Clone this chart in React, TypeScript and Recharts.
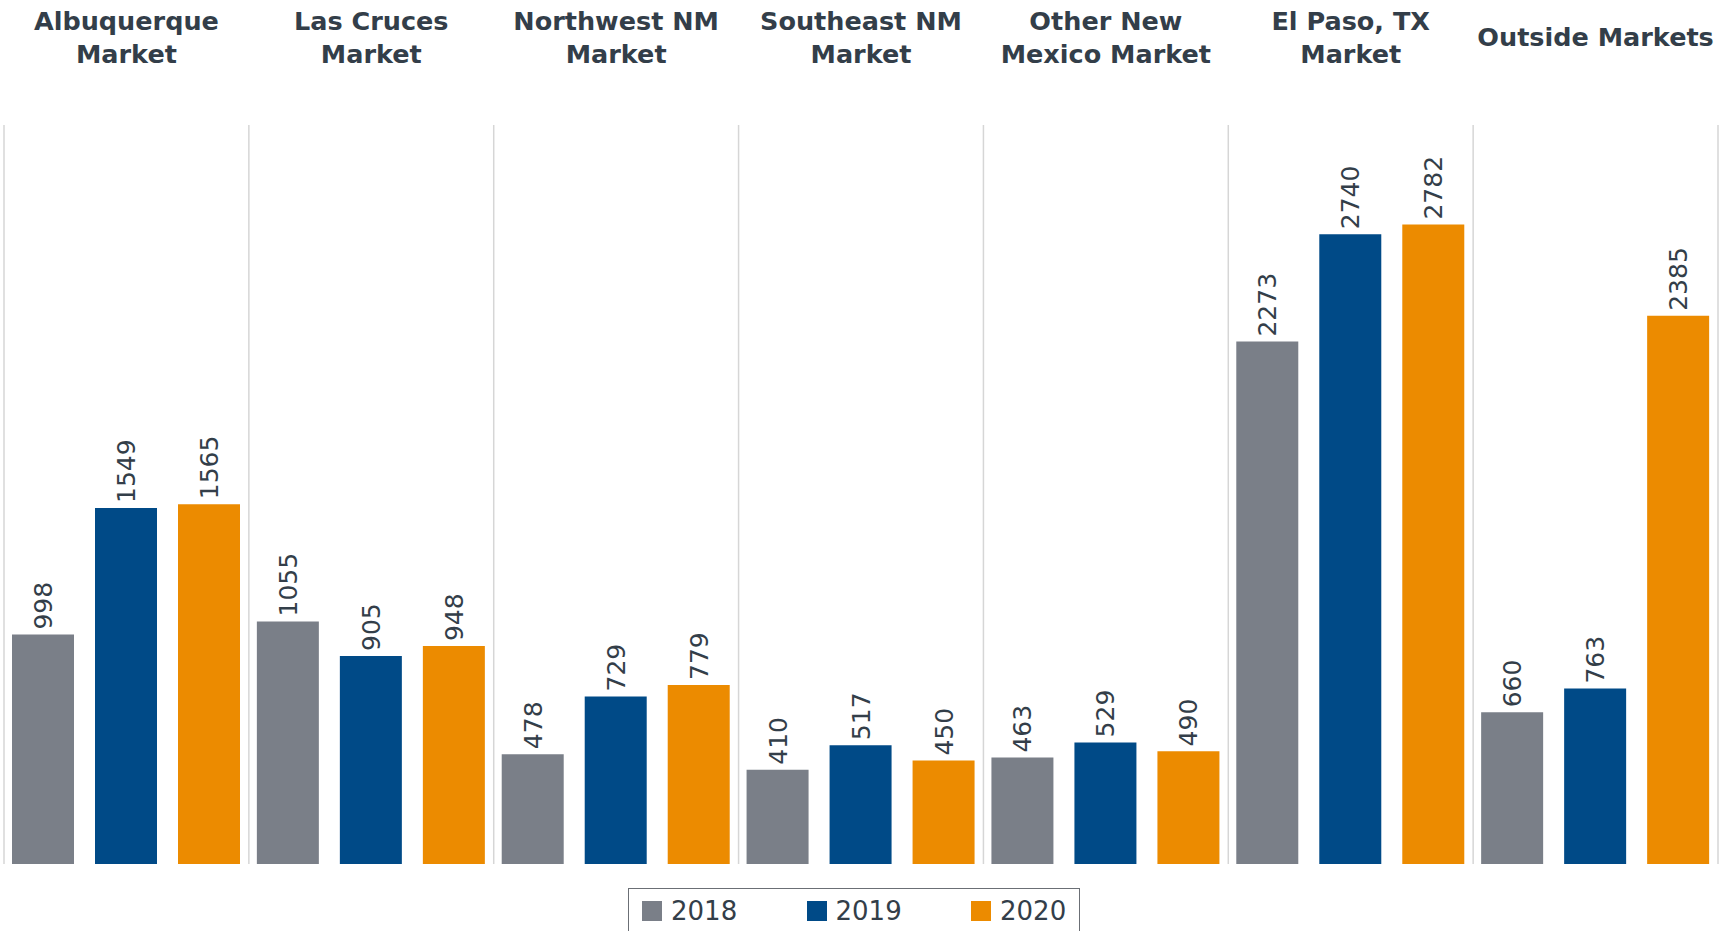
import { BarChart, Bar, XAxis, YAxis, CartesianGrid, LabelList } from 'recharts';

const markets = [
  'Albuquerque Market',
  'Las Cruces Market',
  'Northwest NM Market',
  'Southeast NM Market',
  'Other New Mexico Market',
  'El Paso, TX Market',
  'Outside Markets',
];

// how each header is broken over lines
const marketLines: string[][] = [
  ['Albuquerque', 'Market'],
  ['Las Cruces', 'Market'],
  ['Northwest NM', 'Market'],
  ['Southeast NM', 'Market'],
  ['Other New', 'Mexico Market'],
  ['El Paso, TX', 'Market'],
  ['Outside Markets'],
];

const values2018 = [998, 1055, 478, 410, 463, 2273, 660];
const values2019 = [1549, 905, 729, 517, 529, 2740, 763];
const values2020 = [1565, 948, 779, 450, 490, 2782, 2385];

const years = ['2018', '2019', '2020'];
const colors = ['#7a7f88', '#004a87', '#ec8b00'];

const data = markets.map((m, i) => ({
  market: m,
  '2018': values2018[i],
  '2019': values2019[i],
  '2020': values2020[i],
}));

const FONT = '"DejaVu Sans", Verdana, sans-serif';
const TEXT = '#333e49';

const MarketTick = (props: any) => {
  const { x, index } = props;
  const lines = marketLines[index] || [];
  const baselines = lines.length === 1 ? [46] : [30, 63];
  return (
    <g>
      {lines.map((line, i) => (
        <text
          key={i}
          x={x}
          y={baselines[i]}
          textAnchor="middle"
          fontFamily={FONT}
          fontWeight="bold"
          fontSize={25.5}
          fill={TEXT}
        >
          {line}
        </text>
      ))}
    </g>
  );
};

const renderValue = (props: any) => {
  const { x, y, width, value } = props;
  const cx = x + width / 2;
  const ty = y - 5;
  return (
    <text
      x={cx}
      y={ty}
      dy="0.36em"
      transform={`rotate(-90, ${cx}, ${ty})`}
      textAnchor="start"
      fontFamily={FONT}
      fontSize={25}
      fill={TEXT}
    >
      {value}
    </text>
  );
};

const panelLines = ({ offset }: any) => {
  const xs: number[] = [];
  for (let i = 0; i <= markets.length; i++) {
    xs.push(offset.left + (i * offset.width) / markets.length);
  }
  return xs;
};

export default function App() {
  return (
    <div style={{ position: 'absolute', left: 0, top: 0, width: 1733, height: 931, background: '#fff' }}>
      <BarChart
        width={1733}
        height={931}
        data={data}
        margin={{ top: 0, right: 15, bottom: 67, left: 4 }}
        barCategoryGap={8}
        barGap={21}
      >
        <CartesianGrid
          horizontal={false}
          stroke="#d6d6d6"
          strokeWidth={1.5}
          verticalCoordinatesGenerator={panelLines}
        />
        <XAxis
          dataKey="market"
          orientation="top"
          height={125}
          axisLine={false}
          tickLine={false}
          interval={0}
          tick={<MarketTick />}
        />
        <YAxis hide domain={[0, 3215]} />
        {years.map((yr, i) => (
          <Bar key={yr} dataKey={yr} fill={colors[i]} isAnimationActive={false}>
            <LabelList dataKey={yr} content={renderValue} />
          </Bar>
        ))}
      </BarChart>
      <div
        style={{
          position: 'absolute',
          left: 628,
          top: 888,
          width: 452,
          height: 60,
          boxSizing: 'border-box',
          border: '1.5px solid #6b6f75',
          fontFamily: FONT,
          fontSize: 26,
          color: TEXT,
        }}
      >
        {years.map((yr, i) => (
          <div
            key={yr}
            style={{ position: 'absolute', left: 13 + i * 164.5, top: 4, display: 'flex', alignItems: 'center', height: 36 }}
          >
            <span style={{ display: 'inline-block', width: 20, height: 20, background: colors[i], marginRight: 9 }} />
            <span style={{ lineHeight: '36px' }}>{yr}</span>
          </div>
        ))}
      </div>
    </div>
  );
}
